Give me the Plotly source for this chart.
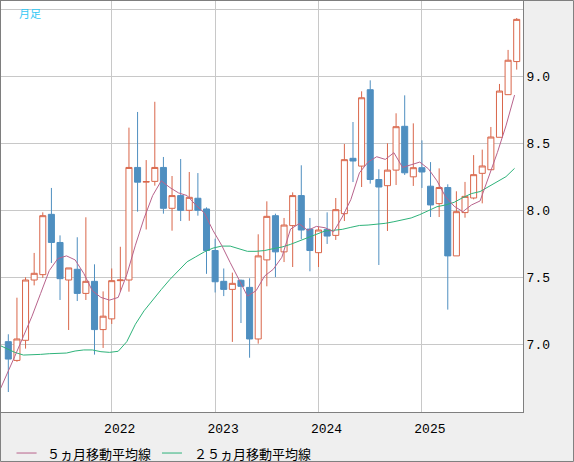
import plotly.graph_objects as go

# monthly candles, Jan 2021 .. Dec 2025 (index 0..59)
opens = [7.02, 6.88, 7.03, 7.48, 7.52, 7.97, 7.76, 7.48, 7.56, 7.38, 7.47, 7.11,
         7.19, 7.475, 7.48, 8.32, 8.21, 8.216, 8.32, 8.015, 8.11, 8.00, 8.09, 8.01,
         7.70, 7.47, 7.41, 7.478, 7.425, 7.04, 7.63, 7.96, 7.69, 7.886, 8.11, 7.86,
         7.684, 7.858, 7.813, 7.975, 8.388, 8.33, 8.90, 8.23, 8.184, 8.30, 8.627, 8.25,
         8.318, 8.18, 8.05, 8.17, 7.66, 7.983, 8.092, 8.276, 8.303, 8.545, 8.863, 9.11]
highs = [7.075, 7.348, 7.50, 7.682, 7.985, 8.167, 7.813, 7.57, 7.799, 7.948, 7.597, 7.395,
         7.566, 7.728, 8.617, 8.734, 8.375, 8.81, 8.398, 8.256, 8.383, 8.286, 8.278, 8.022,
         7.788, 7.566, 7.535, 7.483, 7.493, 7.821, 8.067, 7.975, 7.943, 8.134, 8.336, 7.943,
         7.876, 7.985, 8.092, 8.495, 8.659, 8.888, 8.97, 8.306, 8.50, 8.724, 8.858, 8.649,
         8.522, 8.36, 8.313, 8.194, 8.142, 8.212, 8.412, 8.453, 8.622, 8.943, 9.197, 9.435]
lows = [6.644, 6.87, 6.968, 7.44, 7.497, 7.607, 7.331, 7.107, 7.323, 7.331, 6.923, 6.973,
        7.152, 7.392, 7.393, 7.99, 7.857, 8.184, 7.975, 7.848, 7.92, 7.922, 7.96, 7.526,
        7.387, 7.36, 7.018, 7.159, 6.90, 7.005, 7.433, 7.502, 7.614, 7.577, 7.784, 7.545,
        7.577, 7.749, 7.779, 7.92, 8.211, 8.174, 8.199, 7.592, 7.846, 8.189, 8.264, 8.182,
        8.167, 7.95, 7.95, 7.259, 7.66, 7.945, 8.082, 8.052, 8.303, 8.545, 8.863, 9.05]
closes = [6.89, 7.04, 7.48, 7.53, 7.96, 7.76, 7.49, 7.57, 7.38, 7.47, 7.11, 7.21,
          7.475, 7.48, 8.32, 8.21, 8.215, 8.32, 8.015, 8.11, 8.00, 8.097, 8.00, 7.70,
          7.467, 7.41, 7.455, 7.433, 7.04, 7.66, 7.955, 7.69, 7.89, 8.11, 7.853, 7.70,
          7.853, 7.808, 8.005, 8.378, 8.368, 8.84, 8.23, 8.174, 8.30, 8.624, 8.28, 8.318,
          8.286, 8.04, 8.17, 7.66, 7.99, 8.104, 8.266, 8.331, 8.547, 8.89, 9.12, 9.425]

# moving average lines, index -1 .. 59
ma5 = [6.62, 6.76, 6.91, 7.06, 7.21, 7.38, 7.55, 7.64, 7.66, 7.63, 7.53, 7.40, 7.35,
       7.33, 7.35, 7.52, 7.74, 7.94, 8.11, 8.22, 8.17, 8.13, 8.11, 8.04, 7.98,
       7.85, 7.74, 7.61, 7.49, 7.36, 7.40, 7.51, 7.56, 7.65, 7.86, 7.90, 7.85,
       7.88, 7.87, 7.84, 7.95, 8.08, 8.28, 8.36, 8.40, 8.38, 8.43, 8.32, 8.34,
       8.36, 8.31, 8.22, 8.10, 8.03, 7.99, 8.04, 8.07, 8.25, 8.43, 8.63, 8.86]
ma25 = [7.00, 6.97, 6.94, 6.92, 6.92, 6.925, 6.93, 6.93, 6.935, 6.95, 6.958, 6.958, 6.945,
        6.94, 6.948, 7.02, 7.15, 7.25, 7.334, 7.409, 7.484, 7.553, 7.616, 7.653, 7.69,
        7.718, 7.733, 7.733, 7.714, 7.694, 7.694, 7.70, 7.714, 7.726, 7.746, 7.771, 7.80,
        7.826, 7.846, 7.851, 7.858, 7.873, 7.887, 7.89, 7.896, 7.903, 7.915, 7.928, 7.943,
        7.968, 8.0, 8.027, 8.04, 8.06, 8.095, 8.125, 8.14, 8.177, 8.214, 8.251, 8.313]

year_ticks = [12, 24, 36, 48]
year_labels = ["2022", "2023", "2024", "2025"]
price_ticks = [6.5, 7.0, 7.5, 8.0, 8.5, 9.0, 9.5]
price_labels = ["", "7.0", "7.5", "8.0", "8.5", "9.0", ""]
legend_names = ["５ヵ月移動平均線", "２５ヵ月移動平均線"]

UP = "#d9664a"
DOWN = "#4f8fc0"
MA5_COLOR = "#b8638c"
MA25_COLOR = "#2eb37a"
MONO = "Liberation Mono, DejaVu Sans Mono, monospace"
JP = "Noto Sans CJK JP"

idx = list(range(len(closes)))
ma_x = [i - 0.25 for i in range(-1, len(closes))]

fig = go.Figure()
fig.add_trace(go.Candlestick(
    x=idx, open=opens, high=highs, low=lows, close=closes,
    increasing=dict(line=dict(color=UP, width=1), fillcolor="white"),
    decreasing=dict(line=dict(color=DOWN, width=1), fillcolor=DOWN),
    whiskerwidth=0, showlegend=False, hoverinfo="skip"))
fig.add_trace(go.Scatter(x=ma_x, y=ma25, mode="lines",
                         line=dict(color=MA25_COLOR, width=1), showlegend=False))
fig.add_trace(go.Scatter(x=ma_x, y=ma5, mode="lines",
                         line=dict(color=MA5_COLOR, width=1), showlegend=False))

fig.update_layout(
    width=574, height=462,
    margin=dict(l=1, r=51, t=1, b=50),
    paper_bgcolor="#efefef", plot_bgcolor="white",
    boxgap=0.3, boxgroupgap=0,
    xaxis=dict(range=[-0.85, 59.73], tickvals=year_ticks, ticktext=year_labels,
               showgrid=True, gridcolor="#c8c8c8", gridwidth=1, zeroline=False,
               rangeslider=dict(visible=False), ticks="", ticklabelshift=8,
               ticklabelstandoff=4,
               showline=True, linecolor="#7f7f7f", mirror=True,
               tickfont=dict(family=MONO, size=13, color="black")),
    yaxis=dict(range=[6.495, 9.562], side="right", tickvals=price_ticks,
               ticktext=price_labels, showgrid=True, gridcolor="#c8c8c8",
               gridwidth=1, zeroline=False, ticks="",
               showline=True, linecolor="#7f7f7f", mirror=True,
               tickfont=dict(family=MONO, size=13, color="black")),
)

# outer frame of the picture
fig.add_shape(type="rect", xref="paper", yref="paper",
              x0=-0.001, x1=1.0968, y0=-0.1204, y1=1.0012,
              line=dict(color="#7f7f7f", width=1))

fig.add_annotation(text="月足", xref="paper", yref="paper", x=0.0307, y=0.994,
                   xanchor="left", yanchor="top", showarrow=False,
                   font=dict(family=JP, size=11, color="#33c8f5"))

# legend drawn by hand under the axis
legend_y = -0.0998
for (x0, x1, tx), name, col in zip([(0.0297, 0.0682, 0.0843), (0.3084, 0.3467, 0.3659)],
                                   legend_names, [MA5_COLOR, MA25_COLOR]):
    fig.add_shape(type="line", xref="paper", yref="paper", x0=x0, x1=x1,
                  y0=legend_y, y1=legend_y, line=dict(color=col, width=1))
    fig.add_annotation(text=name, xref="paper", yref="paper", x=tx, y=legend_y,
                       xanchor="left", yanchor="middle", showarrow=False,
                       font=dict(family=JP, size=13, color="black"))

fig.write_html("out.html", config={"displayModeBar": False},
               post_script="document.body.style.margin='0';")
